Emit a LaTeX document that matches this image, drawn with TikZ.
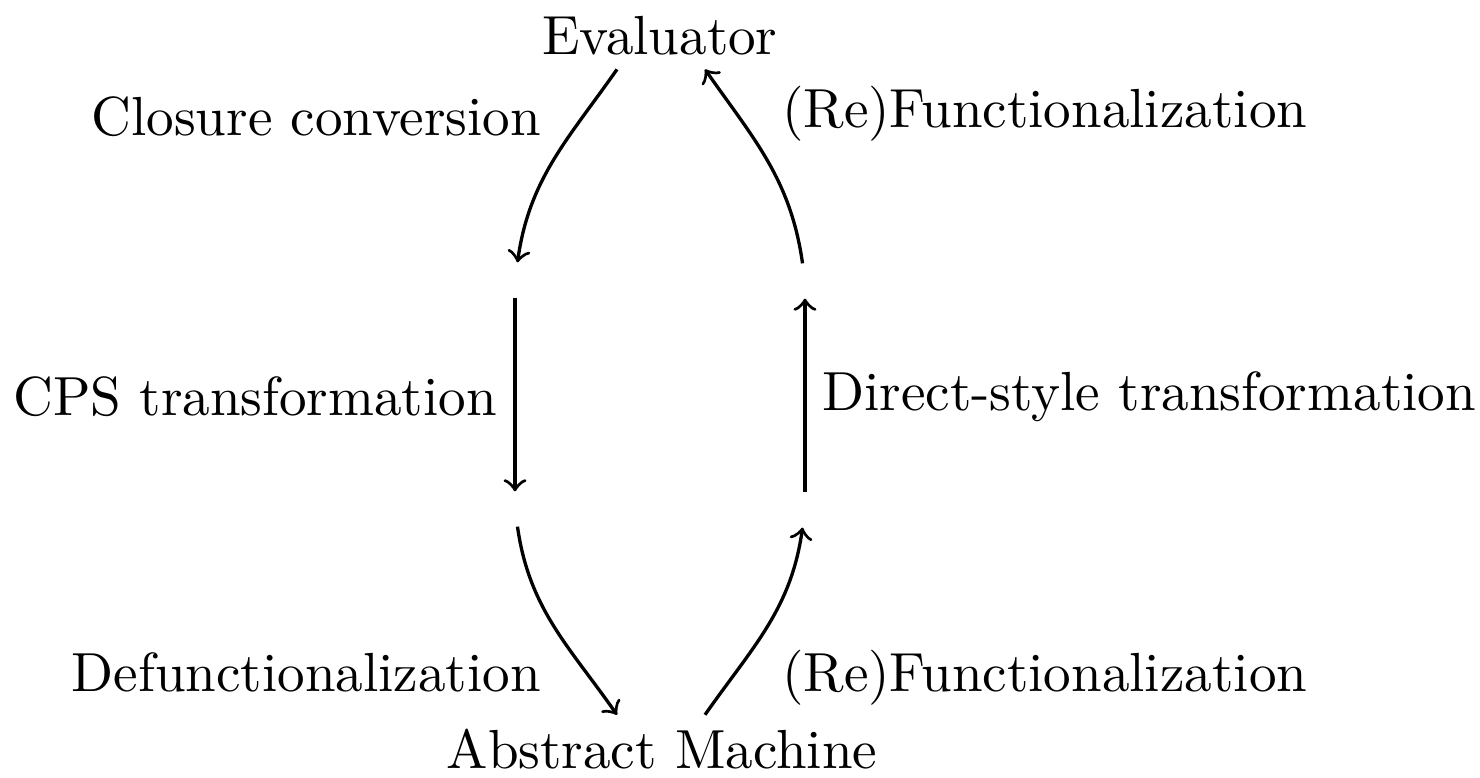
\documentclass[tikz,border=0pt]{standalone}
\usetikzlibrary{calc}
\begin{document}
\begin{tikzpicture}[x=0.1815pt,y=-0.1815pt,
  stage/.style={inner sep=2.3pt},
  hub/.style={inner sep=3.0pt, minimum size=0pt},
  lbl/.style={inner sep=0pt},
  arr/.style={->, line width=0.6pt}]
  \useasboundingbox (0,0) rectangle (1480,778);

  % main stages
  \node[stage, anchor=base] (ev) at (660,55) {Evaluator};
  \node[stage, anchor=base] (am) at (662,768) {Abstract Machine};

  % intermediate (unlabelled) stages
  \node[hub] (L1) at (515,280) {};
  \node[hub] (L2) at (515,509) {};
  \node[hub] (R1) at (805,281) {};
  \node[hub] (R2) at (805,510) {};

  % connectors
  \draw[arr] ($(ev.south)+(-43,0)$) to[out=235,in=82] (L1);
  \draw[arr] (L1) -- (L2);
  \draw[arr] (L2) to[out=278,in=125] ($(am.north)+(-45,0)$);
  \draw[arr] ($(am.north)+(43,0)$) to[out=55,in=262] (R2);
  \draw[arr] (R2) -- (R1);
  \draw[arr] (R1) to[out=98,in=305] ($(ev.south)+(45,0)$);

  % transformation labels
  \node[lbl, anchor=base east] (cc) at (542,136) {Closure conversion};
  \node[lbl, anchor=base west] (rf1) at (781,128) {(Re)Functionalization};
  \node[lbl, anchor=base east] (cps) at (498,416) {CPS transformation};
  \node[lbl, anchor=base west] (ds) at (821,411) {Direct-style transformation};
  \node[lbl, anchor=base east] (df) at (542,691) {Defunctionalization};
  \node[lbl, anchor=base west] (rf2) at (781,691) {(Re)Functionalization};
\end{tikzpicture}
\end{document}
